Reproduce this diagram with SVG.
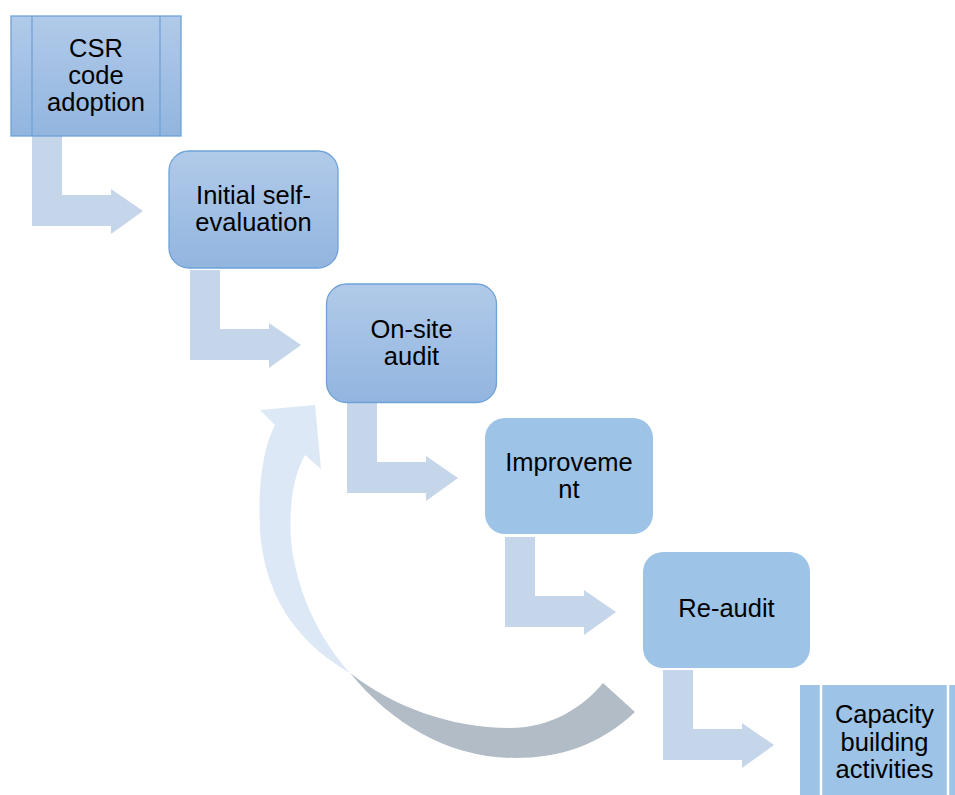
<svg xmlns="http://www.w3.org/2000/svg" width="955" height="795" viewBox="0 0 955 795">
  <defs>
    <linearGradient id="boxGrad" x1="0" y1="0" x2="0" y2="1">
      <stop offset="0" stop-color="#b1cae9"/>
      <stop offset="1" stop-color="#92b5df"/>
    </linearGradient>
    <style>
      .lbl { font-family: "Liberation Sans", Arial, sans-serif; font-size: 25.5px; fill: #000; text-anchor: middle; }
      .grad { fill: url(#boxGrad); stroke: #6ea2d8; stroke-width: 1.3; }
      .flat { fill: #9dc3e6; }
      .bent { fill: #c5d5ea; }
      .sep { stroke: #6ea2d8; stroke-width: 1.3; }
      .sepw { stroke: #ffffff; stroke-width: 2.5; }
    </style>
  </defs>

  <rect width="955" height="795" fill="#ffffff"/>

  <!-- feedback loop arrow and bent step arrows -->
  <g id="connectors">
    <!-- back face of the curved return arrow -->
    <path fill="#b1bcc6" d="M350,673 C392,706 450,728 510,728 C552,728 584,706 603,683 L635,712 C600,745 560,758 515,758 C450,758 393,725 350,673 Z"/>
    <!-- front face with the head pointing up -->
    <path fill="#dce8f5" d="M350,673 C322,642 300,600 292,550 C288,512 292,478 305,455 L321,469 L315,405 L260,410 L275,425 C262,450 258,490 260,530 C264,590 292,640 350,673 Z"/>

    <path class="bent" d="M32,136 h30 v59 h49 v-6 l32,22 l-32,23 v-8 h-79 Z"/>
    <path class="bent" d="M190,270 h30 v59 h49 v-6 l32,22 l-32,23 v-8 h-79 Z"/>
    <path class="bent" d="M347,403 h30 v59 h49 v-6 l32,22 l-32,23 v-8 h-79 Z"/>
    <path class="bent" d="M505,537 h30 v59 h49 v-6 l32,22 l-32,23 v-8 h-79 Z"/>
    <path class="bent" d="M663,670 h30 v59 h49 v-6 l32,22 l-32,23 v-8 h-79 Z"/>
  </g>

  <g id="csr-code-adoption">
    <rect class="grad" x="11" y="16" width="170" height="120"/>
    <line class="sep" x1="32" y1="16" x2="32" y2="136"/>
    <line class="sep" x1="160" y1="16" x2="160" y2="136"/>
    <text class="lbl" x="96" y="56.5">CSR</text>
    <text class="lbl" x="96" y="83.5">code</text>
    <text class="lbl" x="96" y="110.5">adoption</text>
  </g>

  <g id="initial-self-evaluation">
    <rect class="grad" x="169" y="151" width="169" height="117" rx="20"/>
    <text class="lbl" x="253.5" y="204">Initial self-</text>
    <text class="lbl" x="253.5" y="231">evaluation</text>
  </g>

  <g id="on-site-audit">
    <rect class="grad" x="326.5" y="284" width="170" height="118.5" rx="20"/>
    <text class="lbl" x="411.5" y="337.5">On-site</text>
    <text class="lbl" x="411.5" y="364.5">audit</text>
  </g>

  <g id="improvement">
    <rect class="flat" x="485" y="418" width="168" height="116" rx="20"/>
    <text class="lbl" x="569" y="471">Improveme</text>
    <text class="lbl" x="569" y="498">nt</text>
  </g>

  <g id="re-audit">
    <rect class="flat" x="643" y="552" width="167" height="116" rx="20"/>
    <text class="lbl" x="726.5" y="617">Re-audit</text>
  </g>

  <g id="capacity-building-activities">
    <rect class="flat" x="800" y="685" width="170" height="120"/>
    <line class="sepw" x1="821" y1="685" x2="821" y2="805"/>
    <line class="sepw" x1="948" y1="685" x2="948" y2="805"/>
    <text class="lbl" x="884.5" y="723">Capacity</text>
    <text class="lbl" x="884.5" y="750.5">building</text>
    <text class="lbl" x="884.5" y="778">activities</text>
  </g>
</svg>
